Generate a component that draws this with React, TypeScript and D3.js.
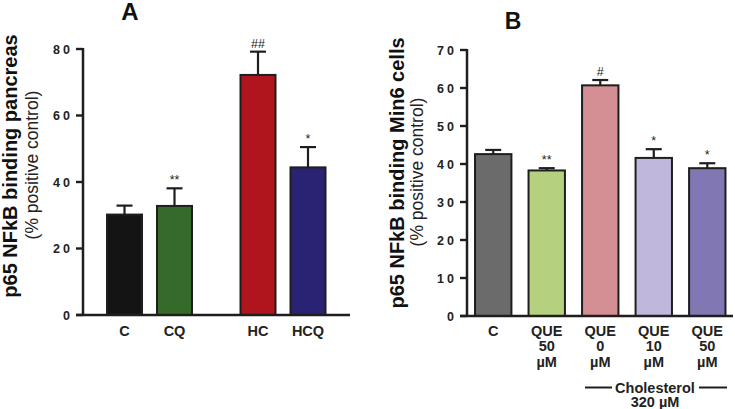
import React from "react";
import * as d3 from "d3";

// Panel A data
const catsA = ["C", "CQ", "HC", "HCQ"];
const groupA = [0, 0, 1, 1];
const valsA = [30.2, 32.8, 72.2, 44.4];
const errA = [2.7, 5.3, 7.0, 6.1];
const marksA = ["", "**", "##", "*"];
const colorsA = ["#141414", "#356a2b", "#b0141c", "#2a2272"];
const ticksA = [0, 20, 40, 60, 80];

// Panel B data
const catsB = ["C", "QUE50a", "QUE0", "QUE10", "QUE50b"];
const labelsB = [["C"], ["QUE", "50", "µM"], ["QUE", "0", "µM"], ["QUE", "10", "µM"], ["QUE", "50", "µM"]];
const valsB = [42.6, 38.3, 60.7, 41.6, 38.9];
const errB = [1.1, 0.6, 1.4, 2.3, 1.3];
const marksB = ["", "**", "#", "*", "*"];
const colorsB = ["#6b6b6b", "#b5d17f", "#d48f95", "#c0b8dc", "#8077b3"];
const ticksB = [0, 10, 20, 30, 40, 50, 60, 70];

const FONT = "'Liberation Sans', Arial, sans-serif";
const AX = "#1e1e1e";

export default function App() {
  // Panel A scales
  const yA = d3.scaleLinear().domain([0, 80]).range([315, 49]);
  const xA = d3.scaleLinear().domain([0, 1]).range([124.5, 174.5]);
  const posA = (i: number) => xA(i + groupA[i] * 0.67);
  const bwA = 35;

  // Panel B scales
  const yB = d3.scaleLinear().domain([0, 70]).range([316, 50]);
  const xB = d3.scaleBand().domain(catsB).range([467, 733.5]).paddingInner(0.32).paddingOuter(0.15);
  const bwB = xB.bandwidth();

  const errBar = (cx: number, top: number, errTop: number, key: string) => (
    <g key={key} stroke={AX} strokeWidth={2.2}>
      <line x1={cx} x2={cx} y1={top} y2={errTop} />
      <line x1={cx - 8} x2={cx + 8} y1={errTop} y2={errTop} />
    </g>
  );

  return (
    <svg width={735} height={409} style={{ position: "absolute", left: 0, top: 0, background: "#fff" }} fontFamily={FONT}>
      {/* ===== Panel A ===== */}
      <text x={130} y={20} fontSize={24} fontWeight="bold" textAnchor="middle" fill="#111">A</text>
      <text transform="translate(17,166) rotate(-90)" fontSize={20} fontWeight="bold" textAnchor="middle" fill="#111">
        p65 NFkB binding pancreas
      </text>
      <text transform="translate(38,165) rotate(-90)" fontSize={17.5} textAnchor="middle" fill="#222">
        (% positive control)
      </text>
      {ticksA.map((t) => (
        <g key={"ta" + t}>
          <line x1={76} x2={83} y1={yA(t)} y2={yA(t)} stroke={AX} strokeWidth={2.4} />
          <text x={73} y={yA(t) + 4.5} fontSize={12.5} fontWeight="bold" letterSpacing={3} textAnchor="end" fill="#222">{t}</text>
        </g>
      ))}
      {valsA.map((v, i) => {
        const cx = posA(i);
        return (
          <g key={"ba" + i}>
            {errBar(cx, yA(v), yA(v + errA[i]), "ea" + i)}
            <rect x={cx - bwA / 2} y={yA(v)} width={bwA} height={yA(0) - yA(v)} fill={colorsA[i]} stroke={AX} strokeWidth={2} />
            <text x={cx} y={yA(v + errA[i]) - 4} fontSize={12.5} textAnchor="middle" fill="#222">{marksA[i]}</text>
            <text x={cx} y={335.5} fontSize={14.5} fontWeight="bold" textAnchor="middle" fill="#222">{catsA[i]}</text>
          </g>
        );
      })}
      <line x1={83} x2={83} y1={48} y2={316} stroke={AX} strokeWidth={2.5} />
      <line x1={76} x2={350} y1={315} y2={315} stroke={AX} strokeWidth={2.5} />

      {/* ===== Panel B ===== */}
      <text x={513} y={29} fontSize={23} fontWeight="bold" textAnchor="middle" fill="#111">B</text>
      <text transform="translate(404,173) rotate(-90)" fontSize={20} fontWeight="bold" textAnchor="middle" fill="#111">
        p65 NFkB binding Min6 cells
      </text>
      <text transform="translate(423,172) rotate(-90)" fontSize={17.5} textAnchor="middle" fill="#222">
        (% positive control)
      </text>
      {ticksB.map((t) => (
        <g key={"tb" + t}>
          <line x1={460} x2={467} y1={yB(t)} y2={yB(t)} stroke={AX} strokeWidth={2.4} />
          <text x={457} y={yB(t) + 4.5} fontSize={12.5} fontWeight="bold" letterSpacing={3} textAnchor="end" fill="#222">{t}</text>
        </g>
      ))}
      {valsB.map((v, i) => {
        const x0 = xB(catsB[i]) as number;
        const cx = x0 + bwB / 2;
        return (
          <g key={"bb" + i}>
            {errBar(cx, yB(v), yB(v + errB[i]), "eb" + i)}
            <rect x={x0} y={yB(v)} width={bwB} height={yB(0) - yB(v)} fill={colorsB[i]} stroke={AX} strokeWidth={2} />
            <text x={cx} y={yB(v + errB[i]) - 4} fontSize={12.5} textAnchor="middle" fill="#222">{marksB[i]}</text>
            {labelsB[i].map((l, j) => (
              <text key={j} x={cx} y={335.5 + j * 15.5} fontSize={14.5} fontWeight="bold" textAnchor="middle" fill="#222">{l}</text>
            ))}
          </g>
        );
      })}
      <line x1={467} x2={467} y1={49} y2={317} stroke={AX} strokeWidth={2.5} />
      <line x1={460} x2={733} y1={316} y2={316} stroke={AX} strokeWidth={2.5} />
      {/* Cholesterol bracket */}
      <line x1={585} x2={612} y1={387.5} y2={387.5} stroke={AX} strokeWidth={2} />
      <line x1={699} x2={727} y1={387.5} y2={387.5} stroke={AX} strokeWidth={2} />
      <text x={655} y={392.5} fontSize={14.5} fontWeight="bold" textAnchor="middle" fill="#222">Cholesterol</text>
      <text x={655} y={407} fontSize={14.5} fontWeight="bold" textAnchor="middle" fill="#222">320 µM</text>
    </svg>
  );
}
